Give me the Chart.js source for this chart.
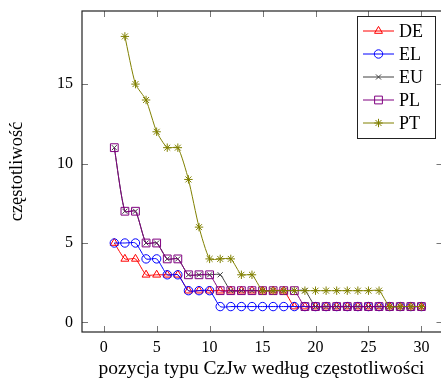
<!DOCTYPE html>
<html>
<head>
<meta charset="utf-8">
<script src="https://cdn.jsdelivr.net/npm/chart.js@4/dist/chart.umd.min.js"></script>
<style>
html,body{margin:0;padding:0;background:#fff;overflow:hidden;}
#wrap{width:441px;height:383px;}
</style>
</head>
<body>
<div id="wrap"><canvas id="freq-chart" width="441" height="383"></canvas></div>
<script>
/* ═══════════════════════════════════
   DATA
═══════════════════════════════════ */
var RANK    = [1,2,3,4,5,6,7,8,9,10,11,12,13,14,15,16,17,18,19,20,21,22,23,24,25,26,27,28,29,30];
var RANK_PT = [2,3,4,5,6,7,8,9,10,11,12,13,14,15,16,17,18,19,20,21,22,23,24,25,26,27,28,29,30];

var DE = [5,4,4,3,3,3,3,2,2,2,2,2,2,2,2,2,2,1,1,1,1,1,1,1,1,1,1,1,1,1];
var EL = [5,5,5,4,4,3,3,2,2,2,1,1,1,1,1,1,1,1,1,1,1,1,1,1,1,1,1,1,1,1];
var EU = [11,7,7,5,5,4,4,3,3,3,3,2,2,2,2,2,2,2,2,1,1,1,1,1,1,1,1,1,1,1];
var PL = [11,7,7,5,5,4,4,3,3,3,2,2,2,2,2,2,2,2,1,1,1,1,1,1,1,1,1,1,1,1];
var PT = [18,15,14,12,11,11,9,6,4,4,4,3,3,2,2,2,2,2,2,2,2,2,2,2,2,1,1,1,1];

var XTICKS = [0,5,10,15,20,25,30];
var YTICKS = [0,5,10,15];

var X_TITLE = 'pozycja typu CzJw według częstotliwości';
var Y_TITLE = 'częstotliwość';

var SERIF = '"Liberation Serif", "DejaVu Serif", serif';

function pts(xs, ys){
  return ys.map(function(v,i){ return {x:xs[i], y:v}; });
}

function series(label, xs, ys, color, style, radius, order){
  return {
    label:label,
    data:pts(xs, ys),
    borderColor:color,
    backgroundColor:color,
    borderWidth:1,
    pointStyle:style,
    pointRadius:radius,
    pointBorderColor:color,
    pointBackgroundColor:'rgba(0,0,0,0)',
    pointBorderWidth:1,
    tension:0.2,
    order:order
  };
}

/* ticks pointing inward on all four sides + frame (right edge falls just past the canvas) */
var frameTicks = {
  id:'frameTicks',
  afterDraw:function(chart){
    var c = chart.ctx, a = chart.chartArea;
    var xs = chart.scales.x, ys = chart.scales.y, L = 6;
    var right = a.right + 1.5;
    c.save();
    c.strokeStyle = '#777';
    c.lineWidth = 1;
    c.beginPath();
    XTICKS.forEach(function(v){
      var px = Math.round(xs.getPixelForValue(v)) + 0.5;
      c.moveTo(px, a.bottom); c.lineTo(px, a.bottom - L);
      c.moveTo(px, a.top);    c.lineTo(px, a.top + L);
    });
    YTICKS.forEach(function(v){
      var py = Math.round(ys.getPixelForValue(v)) + 0.5;
      c.moveTo(a.left, py); c.lineTo(a.left + L, py);
      c.moveTo(right, py);  c.lineTo(right - L, py);
    });
    c.stroke();
    c.strokeStyle = '#222';
    c.lineWidth = 1.2;
    c.strokeRect(a.left, a.top, right - a.left, a.bottom - a.top);
    c.restore();
  }
};

/* legend box inside the plot, top right */
var innerLegend = {
  id:'innerLegend',
  afterDraw:function(chart){
    var c = chart.ctx;
    var bx = 357, by = 16, bw = 78, bh = 122;
    c.save();
    c.fillStyle = '#fff';
    c.fillRect(bx, by, bw, bh);
    c.strokeStyle = '#222';
    c.lineWidth = 1;
    c.strokeRect(bx + 0.5, by + 0.5, bw, bh);
    chart.data.datasets.forEach(function(ds, i){
      var y = 31 + i*23;
      c.strokeStyle = ds.borderColor;
      c.lineWidth = 1;
      c.beginPath();
      c.moveTo(363, y); c.lineTo(394, y);
      c.stroke();
      c.fillStyle = 'rgba(0,0,0,0)';
      Chart.helpers.drawPoint(c, {
        pointStyle:ds.pointStyle, radius:ds.pointRadius, rotation:0, borderWidth:1
      }, 378.5, y);
      c.fillStyle = '#000';
      c.font = '18px ' + SERIF;
      c.textBaseline = 'middle';
      c.fillText(ds.label, 399, y + 1);
    });
    c.restore();
  }
};

document.addEventListener('DOMContentLoaded', function(){
  buildChart();
});

function buildChart(){
  var ctx = document.getElementById('freq-chart');
  new Chart(ctx, {
    type:'line',
    data:{
      datasets:[
        series('DE', RANK, DE, '#ff0000', 'triangle', 4.6, 4),
        series('EL', RANK, EL, '#0000ff', 'circle', 4.2, 3),
        series('EU', RANK, EU, '#404040', 'crossRot', 3.6, 2),
        series('PL', RANK, PL, '#800080', 'rect', 5.5, 1),
        series('PT', RANK_PT, PT, '#808000', 'star', 4.2, 0)
      ]
    },
    options:{
      responsive:false,
      animation:false,
      layout:{autoPadding:false, padding:{left:0, right:0, top:11, bottom:0}},
      plugins:{legend:{display:false}, tooltip:{enabled:false}},
      scales:{
        x:{
          type:'linear', min:-2.05, max:31.85,
          afterBuildTicks:function(s){ s.ticks = XTICKS.map(function(v){return {value:v};}); },
          afterFit:function(s){ s.height = 51; s.paddingLeft = 0; s.paddingRight = 0; },
          grid:{display:false, drawTicks:false},
          border:{display:false},
          ticks:{padding:6, color:'#000', font:{family:SERIF, size:16}, maxRotation:0},
          title:{display:true, text:X_TITLE, color:'#000', font:{family:SERIF, size:19.5}, padding:{top:0, bottom:2}}
        },
        y:{
          type:'linear', min:-0.6, max:19.6,
          afterBuildTicks:function(s){ s.ticks = YTICKS.map(function(v){return {value:v};}); },
          afterFit:function(s){ s.width = 82; s.paddingTop = 0; s.paddingBottom = 0; },
          grid:{display:false, drawTicks:false},
          border:{display:false},
          ticks:{padding:9, color:'#000', font:{family:SERIF, size:16}},
          title:{display:true, text:Y_TITLE, color:'#000', font:{family:SERIF, size:18.5}, padding:{top:6, bottom:0}}
        }
      }
    },
    plugins:[frameTicks, innerLegend]
  });
}
</script>
</body>
</html>
